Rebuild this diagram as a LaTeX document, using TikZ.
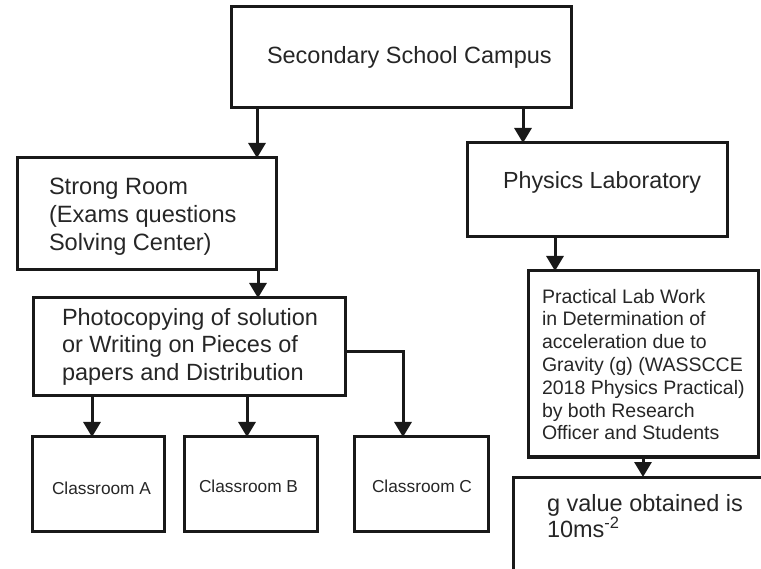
\documentclass[tikz,border=0pt]{standalone}
\usepackage{fontspec}
\setmainfont{Liberation Sans}
\usetikzlibrary{arrows.meta}
\begin{document}
\begin{tikzpicture}[x=1pt,y=-1pt,
  box/.style={draw=black!90, line width=3pt, inner sep=0pt, outer sep=0pt, rectangle},
  txt/.style={inner sep=0pt, outer sep=0pt, align=left, text=black!85},
  arr/.style={draw=black!90, line width=3pt, -{Triangle[width=17pt,length=15pt]}},
]
\useasboundingbox (0,0) rectangle (761,569);
% boxes
\node[box, minimum width=340pt, minimum height=101pt] (top) at (401,57.5) {};
\node[box, minimum width=259pt, minimum height=112pt] (strong) at (146.5,214) {};
\node[box, minimum width=312pt, minimum height=98pt] (photo) at (189,347) {};
\node[box, minimum width=132pt, minimum height=94pt] (ca) at (98,484) {};
\node[box, minimum width=133pt, minimum height=94pt] (cb) at (250.5,484) {};
\node[box, minimum width=134pt, minimum height=94pt] (cc) at (421,484) {};
\node[box, minimum width=260pt, minimum height=94pt] (phys) at (597,190) {};
\node[box, minimum width=230pt, minimum height=186pt] (prac) at (643,364) {};
\begin{scope}
\clip (0,0) rectangle (761,569);
\node[box, minimum width=300pt, minimum height=150pt, anchor=north west] (gbox) at (513,477) {};
\end{scope}
% texts
\node[txt, font=\fontsize{23.5}{28}\selectfont, anchor=base west] (ttop) at (267,64) {Secondary School Campus};
\node[txt, font=\fontsize{23.6}{28}\selectfont, anchor=north west] (tstrong) at (49,178) {Strong Room\\(Exams questions\\Solving Center)};
\node[txt, font=\fontsize{23.5}{27.5}\selectfont, anchor=north west] (tphoto) at (62,308) {Photocopying of solution\\or Writing on Pieces of\\papers and Distribution};
\node[txt, font=\fontsize{17.3}{20}\selectfont, anchor=base west] (tca) at (52,494) {Classroom A};
\node[txt, font=\fontsize{17.3}{20}\selectfont, anchor=base west] (tcb) at (199,492) {Classroom B};
\node[txt, font=\fontsize{17.3}{20}\selectfont, anchor=base west] (tcc) at (372,492) {Classroom C};
\node[txt, font=\fontsize{23.3}{28}\selectfont, anchor=base west] (tphys) at (503,189) {Physics Laboratory};
\node[txt, font=\fontsize{19.5}{22.8}\selectfont, anchor=north west] (tprac) at (542,289) {Practical Lab Work\\in Determination of\\acceleration due to\\Gravity (g) (WASSCCE\\2018 Physics Practical)\\by both Research\\Officer and Students};
\node[txt, font=\fontsize{23.5}{26}\selectfont, anchor=north west] (tg) at (547,494) {g value obtained is\\10ms\textsuperscript{-2}};
% x positions of connectors
\coordinate (x1) at (257,0);
\coordinate (x2) at (523,0);
\coordinate (x3) at (258,0);
\coordinate (x4) at (92,0);
\coordinate (x5) at (247,0);
\coordinate (x6) at (403,0);
\coordinate (x7) at (555,0);
\coordinate (x8) at (643,0);
% connectors
\draw[arr] (top.south -| x1) -- (strong.north -| x1);
\draw[arr] (top.south -| x2) -- (phys.north -| x2);
\draw[arr] (strong.south -| x3) -- (photo.north -| x3);
\draw[arr] (photo.south -| x4) -- (ca.north -| x4);
\draw[arr] (photo.south -| x5) -- (cb.north -| x5);
\draw[arr] ([yshift=-5pt]photo.east) -| (cc.north -| x6);
\draw[arr] (phys.south -| x7) -- (prac.north -| x7);
\draw[arr] (prac.south -| x8) -- (gbox.north -| x8);
\end{tikzpicture}
\end{document}
